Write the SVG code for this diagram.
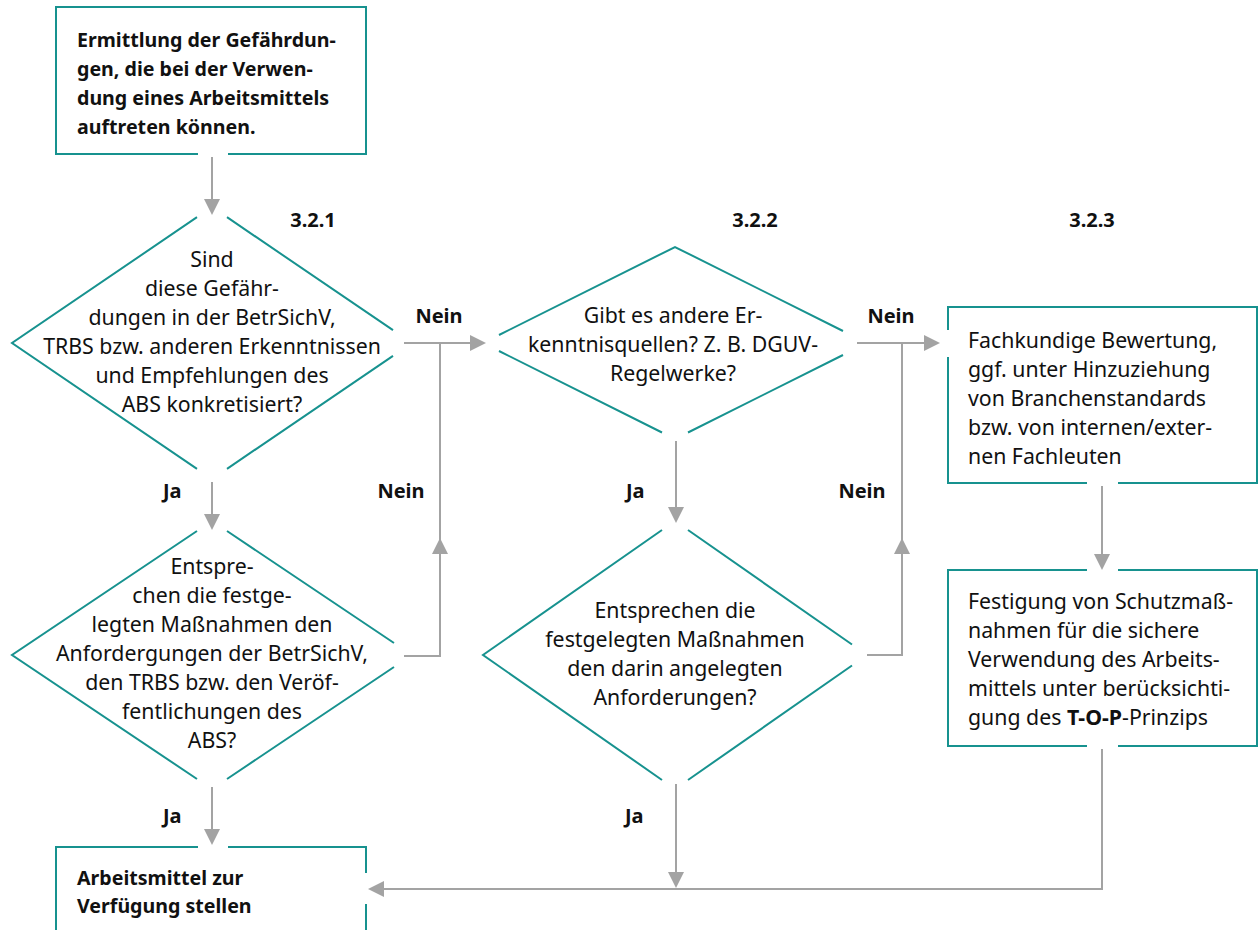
<svg xmlns="http://www.w3.org/2000/svg" width="1260" height="930" viewBox="0 0 1260 930">
<style>
.box{fill:none;stroke:#17928f;stroke-width:2}
.con{fill:none;stroke:#a3a3a3;stroke-width:2}
.t{font-family:"Noto Sans","Liberation Sans",sans-serif;font-size:21.3px;fill:#111}
.b{font-family:"Noto Sans","Liberation Sans",sans-serif;font-size:19.6px;font-weight:bold;fill:#111}
.l{font-family:"Noto Sans","Liberation Sans",sans-serif;font-size:20px;font-weight:bold;fill:#111}
.c{text-anchor:middle}
</style>
<defs>
<marker id="ah" markerUnits="userSpaceOnUse" markerWidth="16" markerHeight="16" refX="6" refY="8" orient="auto">
<path d="M0,0 L16,8 L0,16 z" fill="#a3a3a3"/>
</marker>
</defs>
<rect width="1260" height="930" fill="#fff"/>

<g id="connectors">
<path class="con" d="M212,157 V205" marker-end="url(#ah)"/>
<path class="con" d="M212,482 V520" marker-end="url(#ah)"/>
<path class="con" d="M212,787 V835" marker-end="url(#ah)"/>
<path class="con" d="M404,343 H476" marker-end="url(#ah)"/>
<path class="con" d="M404,656 H440 V548" marker-end="url(#ah)"/>
<path class="con" d="M440,545 V343"/>
<path class="con" d="M676,441 V513" marker-end="url(#ah)"/>
<path class="con" d="M867,655 H902 V548" marker-end="url(#ah)"/>
<path class="con" d="M902,545 V343"/>
<path class="con" d="M857,343 H930" marker-end="url(#ah)"/>
<path class="con" d="M1102,486 V560" marker-end="url(#ah)"/>
<path class="con" d="M1102,749 V889 H378" marker-end="url(#ah)"/>
<path class="con" d="M676,784 V878" marker-end="url(#ah)"/>
</g>

<g id="labels">
<text class="l c" x="313" y="227">3.2.1</text>
<text class="l c" x="755" y="227">3.2.2</text>
<text class="l c" x="1092" y="227">3.2.3</text>
<text class="l c" x="439" y="323">Nein</text>
<text class="l c" x="891" y="323">Nein</text>
<text class="l c" x="401" y="498">Nein</text>
<text class="l c" x="862" y="498">Nein</text>
<text class="l" x="163" y="498">Ja</text>
<text class="l" x="626" y="498">Ja</text>
<text class="l" x="163" y="823">Ja</text>
<text class="l" x="625" y="823">Ja</text>
</g>

<g id="start">
<path class="box" d="M198,154 H56 V7 H366 V154 H228"/>
<text class="b" x="77" y="47">Ermittlung der Gefährdun-</text>
<text class="b" x="77" y="76">gen, die bei der Verwen-</text>
<text class="b" x="77" y="105">dung eines Arbeitsmittels</text>
<text class="b" x="77" y="134">auftreten können.</text>
</g>

<g id="d1">
<path class="box" d="M197,217.2 L12,343 L197,468.8 M227,217.2 L393,330.1 M393,355.9 L227,468.8"/>
<text class="t c" x="212" y="267">Sind</text>
<text class="t c" x="212" y="296">diese Gefähr-</text>
<text class="t c" x="212" y="325">dungen in der BetrSichV,</text>
<text class="t c" x="212" y="354">TRBS bzw. anderen Erkenntnissen</text>
<text class="t c" x="212" y="383">und Empfehlungen des</text>
<text class="t c" x="212" y="412">ABS konkretisiert?</text>
</g>

<g id="d2">
<path class="box" d="M197,531 L12,655 L197,779 M227,531 L394,643 M394,667 L227,779"/>
<text class="t c" x="212" y="574">Entspre-</text>
<text class="t c" x="212" y="603">chen die festge-</text>
<text class="t c" x="212" y="632">legten Maßnahmen den</text>
<text class="t c" x="212" y="661">Anfordergungen der BetrSichV,</text>
<text class="t c" x="212" y="690">den TRBS bzw. den Veröf-</text>
<text class="t c" x="212" y="719">fentlichungen des</text>
<text class="t c" x="212" y="748">ABS?</text>
</g>

<g id="d3">
<path class="box" d="M499,335 L675,247 L843,331 M843,355 L688,432.5 M662,432.5 L499,351"/>
<text class="t c" x="673" y="323">Gibt es andere Er-</text>
<text class="t c" x="673" y="352">kenntnisquellen? Z. B. DGUV-</text>
<text class="t c" x="673" y="381">Regelwerke?</text>
</g>

<g id="d4">
<path class="box" d="M662,530 L483,655 L662,780 M688,530 L852,644.5 M852,665.5 L688,780"/>
<text class="t c" x="675" y="618">Entsprechen die</text>
<text class="t c" x="675" y="647">festgelegten Maßnahmen</text>
<text class="t c" x="675" y="676">den darin angelegten</text>
<text class="t c" x="675" y="705">Anforderungen?</text>
</g>

<g id="box1">
<path class="box" d="M948,330 V307 H1257 V483 H1118 M1087,483 H948 V357"/>
<text class="t" x="968" y="348">Fachkundige Bewertung,</text>
<text class="t" x="968" y="377">ggf. unter Hinzuziehung</text>
<text class="t" x="968" y="406">von Branchenstandards</text>
<text class="t" x="968" y="435">bzw. von internen/exter-</text>
<text class="t" x="968" y="464">nen Fachleuten</text>
</g>

<g id="box2">
<path class="box" d="M1087,570 H948 V746 H1087 M1118,746 H1257 V570 H1118"/>
<text class="t" x="968" y="609">Festigung von Schutzmaß-</text>
<text class="t" x="968" y="638">nahmen für die sichere</text>
<text class="t" x="968" y="667">Verwendung des Arbeits-</text>
<text class="t" x="968" y="696">mittels unter berücksichti-</text>
<text class="t" x="968" y="725">gung des <tspan font-weight="bold">T-O-P</tspan>-Prinzips</text>
</g>

<g id="end">
<path class="box" d="M198,847 H56 V940 M366,940 V904 M366,873 V847 H228"/>
<text class="b" x="77" y="885">Arbeitsmittel zur</text>
<text class="b" x="77" y="913">Verfügung stellen</text>
</g>
</svg>
